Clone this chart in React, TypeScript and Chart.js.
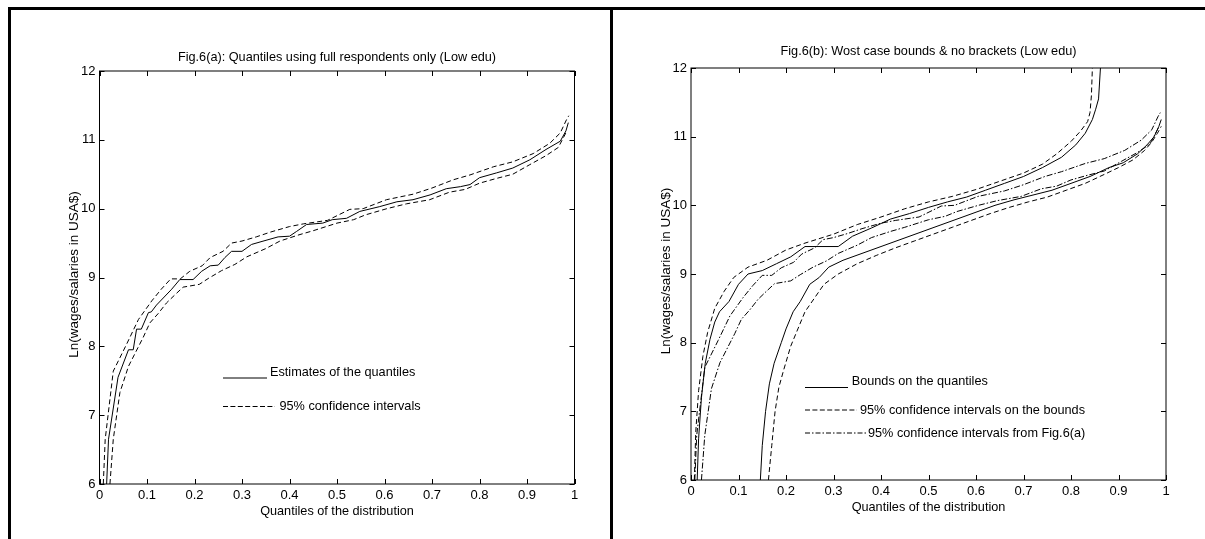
import React, { useEffect, useRef } from "react";
import { Chart, registerables } from "chart.js";

Chart.register(...registerables);

const FONT = "'Liberation Sans', Arial, Helvetica, sans-serif";

// ---------- tick labels ----------
const xTickValues = [0, 0.1, 0.2, 0.3, 0.4, 0.5, 0.6, 0.7, 0.8, 0.9, 1];
const xTickLabels = ["0", "0.1", "0.2", "0.3", "0.4", "0.5", "0.6", "0.7", "0.8", "0.9", "1"];
const yTickValues = [6, 7, 8, 9, 10, 11, 12];
const yTickLabels = ["6", "7", "8", "9", "10", "11", "12"];

// ---------- Fig.6(a) ----------
const estQ = [0.015, 0.019, 0.039, 0.061, 0.071, 0.078, 0.088, 0.103, 0.109, 0.12, 0.152, 0.169, 0.197, 0.215, 0.233, 0.25, 0.264, 0.278, 0.30, 0.32, 0.34, 0.376, 0.40, 0.415, 0.436, 0.47, 0.49, 0.52, 0.548, 0.59, 0.626, 0.66, 0.696, 0.73, 0.76, 0.78, 0.80, 0.836, 0.87, 0.906, 0.94, 0.97, 0.982, 0.987];
const estY = [6.0, 6.65, 7.55, 7.95, 7.95, 8.25, 8.25, 8.49, 8.5, 8.6, 8.83, 8.97, 8.97, 9.09, 9.17, 9.18, 9.29, 9.38, 9.38, 9.48, 9.52, 9.59, 9.6, 9.67, 9.77, 9.79, 9.84, 9.86, 9.96, 10.03, 10.1, 10.13, 10.2, 10.29, 10.32, 10.35, 10.45, 10.52, 10.59, 10.71, 10.86, 10.98, 11.13, 11.25];

const ciUpQ = [0.008, 0.012, 0.029, 0.057, 0.082, 0.11, 0.13, 0.15, 0.17, 0.19, 0.216, 0.233, 0.26, 0.278, 0.30, 0.33, 0.36, 0.40, 0.43, 0.48, 0.527, 0.555, 0.604, 0.66, 0.70, 0.745, 0.78, 0.83, 0.87, 0.913, 0.948, 0.97, 0.983, 0.988];
const ciUpY = [6.0, 6.65, 7.64, 8.03, 8.39, 8.66, 8.83, 8.98, 8.98, 9.09, 9.17, 9.29, 9.38, 9.5, 9.53, 9.59, 9.66, 9.74, 9.78, 9.83, 9.99, 10.0, 10.13, 10.21, 10.3, 10.42, 10.49, 10.61, 10.68, 10.8, 10.95, 11.1, 11.29, 11.35];

const ciLoQ = [0.022, 0.029, 0.043, 0.061, 0.075, 0.092, 0.106, 0.124, 0.141, 0.159, 0.176, 0.21, 0.23, 0.257, 0.285, 0.31, 0.35, 0.38, 0.42, 0.45, 0.50, 0.535, 0.56, 0.605, 0.646, 0.695, 0.737, 0.77, 0.80, 0.836, 0.87, 0.906, 0.94, 0.966, 0.975, 0.984];
const ciLoY = [6.0, 6.65, 7.33, 7.71, 7.9, 8.13, 8.34, 8.48, 8.63, 8.75, 8.86, 8.9, 8.99, 9.1, 9.19, 9.3, 9.42, 9.53, 9.62, 9.68, 9.79, 9.84, 9.91, 10.0, 10.07, 10.13, 10.24, 10.28, 10.37, 10.44, 10.5, 10.64, 10.77, 10.89, 11.01, 11.13];

// ---------- Fig.6(b) ----------
const ubQ = [0.013, 0.016, 0.022, 0.03, 0.04, 0.05, 0.06, 0.08, 0.1, 0.12, 0.15, 0.18, 0.21, 0.24, 0.31, 0.34, 0.38, 0.42, 0.46, 0.5, 0.54, 0.58, 0.62, 0.66, 0.7, 0.74, 0.78, 0.81, 0.83, 0.845, 0.852, 0.858, 0.862];
const ubY = [6.0, 6.6, 7.2, 7.7, 8.05, 8.3, 8.45, 8.6, 8.85, 9.0, 9.05, 9.15, 9.25, 9.4, 9.4, 9.55, 9.67, 9.8, 9.88, 9.97, 10.05, 10.12, 10.22, 10.32, 10.42, 10.55, 10.7, 10.88, 11.05, 11.25, 11.4, 11.55, 12.0];

const ucQ = [0.007, 0.01, 0.016, 0.025, 0.035, 0.05, 0.07, 0.09, 0.12, 0.16, 0.2, 0.24, 0.3, 0.35, 0.4, 0.45, 0.5, 0.55, 0.6, 0.65, 0.7, 0.74, 0.77, 0.8, 0.82, 0.835, 0.84, 0.843, 0.845];
const ucY = [6.0, 6.7, 7.3, 7.8, 8.15, 8.5, 8.75, 8.95, 9.1, 9.2, 9.35, 9.45, 9.58, 9.72, 9.83, 9.95, 10.05, 10.13, 10.23, 10.35, 10.47, 10.6, 10.75, 10.93, 11.08, 11.22, 11.35, 11.6, 12.0];

const lbQ = [0.146, 0.15, 0.157, 0.165, 0.175, 0.19, 0.2, 0.215, 0.23, 0.25, 0.27, 0.29, 0.32, 0.36, 0.4, 0.44, 0.48, 0.52, 0.56, 0.6, 0.64, 0.68, 0.72, 0.76, 0.8, 0.84, 0.88, 0.91, 0.94, 0.96, 0.975, 0.985, 0.99];
const lbY = [6.0, 6.5, 7.0, 7.4, 7.7, 8.0, 8.2, 8.45, 8.6, 8.85, 8.95, 9.1, 9.2, 9.3, 9.4, 9.5, 9.6, 9.7, 9.8, 9.9, 10.0, 10.08, 10.15, 10.22, 10.32, 10.42, 10.55, 10.62, 10.75, 10.88, 11.0, 11.15, 11.25];

const lcQ = [0.163, 0.17, 0.177, 0.185, 0.195, 0.21, 0.225, 0.24, 0.26, 0.28, 0.31, 0.35, 0.39, 0.43, 0.47, 0.51, 0.55, 0.59, 0.63, 0.67, 0.71, 0.75, 0.79, 0.83, 0.87, 0.9, 0.93, 0.955, 0.97, 0.982, 0.99];
const lcY = [6.0, 6.5, 7.0, 7.35, 7.6, 7.95, 8.2, 8.45, 8.65, 8.85, 9.0, 9.15, 9.27, 9.38, 9.48, 9.58, 9.68, 9.78, 9.88, 9.97, 10.05, 10.12, 10.22, 10.32, 10.45, 10.55, 10.66, 10.8, 10.92, 11.05, 11.15];

const TITLE_A = "Fig.6(a): Quantiles using full respondents only (Low edu)";
const TITLE_B = "Fig.6(b): Wost case bounds & no brackets (Low edu)";
const X_TITLE = "Quantiles of the distribution";
const Y_TITLE = "Ln(wages/salaries in USA$)";

const W = 1205;
const H = 539;
const Y_AXIS_W = 40;
const X_AXIS_H = 25;

const SOLID: number[] = [];
const DASH = [5, 3];
const DASHDOT = [6, 2, 1.5, 2];

function zip(q: number[], y: number[]) {
  return q.map((v, i) => ({ x: v, y: y[i] }));
}

function ds(q: number[], y: number[], dash: number[]) {
  return {
    data: zip(q, y),
    showLine: true,
    borderColor: "#000",
    borderWidth: 1,
    borderDash: dash,
    pointRadius: 0,
    tension: 0,
    fill: false,
  };
}

type LegendItem = { dash: number[]; x0: number; x1: number; ly: number; label: string; tx: number; ty: number };
type Decor = { title: string; titleY: number; legend: LegendItem[] };

function decorPlugin(cfg: Decor) {
  return {
    id: "decor",
    afterDraw(chart: any) {
      const { ctx, chartArea: a, scales } = chart;
      ctx.save();
      ctx.strokeStyle = "#000";
      ctx.lineWidth = 1;
      ctx.setLineDash([]);
      ctx.strokeRect(a.left, a.top, a.right - a.left, a.bottom - a.top);
      const tl = 5;
      ctx.beginPath();
      xTickValues.forEach((v) => {
        const px = Math.round(scales.x.getPixelForValue(v)) + 0.5;
        ctx.moveTo(px, a.bottom);
        ctx.lineTo(px, a.bottom - tl);
        ctx.moveTo(px, a.top);
        ctx.lineTo(px, a.top + tl);
      });
      yTickValues.forEach((v) => {
        const py = Math.round(scales.y.getPixelForValue(v)) + 0.5;
        ctx.moveTo(a.left, py);
        ctx.lineTo(a.left + tl, py);
        ctx.moveTo(a.right, py);
        ctx.lineTo(a.right - tl, py);
      });
      ctx.stroke();

      ctx.fillStyle = "#000";
      ctx.font = `12.7px ${FONT}`;
      ctx.textAlign = "center";
      ctx.textBaseline = "middle";
      const cx = (a.left + a.right) / 2;
      ctx.fillText(cfg.title, cx, cfg.titleY);
      ctx.fillText(X_TITLE, cx, a.bottom + 27);

      ctx.save();
      ctx.font = `13.5px ${FONT}`;
      ctx.translate(a.left - 25, (a.top + a.bottom) / 2 - 3);
      ctx.rotate(-Math.PI / 2);
      ctx.fillText(Y_TITLE, 0, 0);
      ctx.restore();

      ctx.textAlign = "left";
      cfg.legend.forEach((it) => {
        ctx.beginPath();
        ctx.setLineDash(it.dash);
        ctx.moveTo(it.x0, it.ly);
        ctx.lineTo(it.x1, it.ly);
        ctx.stroke();
        ctx.setLineDash([]);
        ctx.fillText(it.label, it.tx, it.ty);
      });
      ctx.restore();
    },
  };
}

function makeChart(
  canvas: HTMLCanvasElement,
  datasets: any[],
  padding: { left: number; right: number; top: number; bottom: number },
  decor: Decor
) {
  return new Chart(canvas, {
    type: "scatter",
    data: { datasets },
    plugins: [decorPlugin(decor)],
    options: {
      animation: false,
      responsive: false,
      events: [],
      layout: { padding },
      plugins: { legend: { display: false }, tooltip: { enabled: false }, title: { display: false } },
      scales: {
        x: {
          type: "linear",
          min: 0,
          max: 1,
          afterFit: (s: any) => {
            s.height = X_AXIS_H;
          },
          afterBuildTicks: (s: any) => {
            s.ticks = xTickValues.map((v) => ({ value: v }));
          },
          grid: { display: false, drawTicks: false },
          border: { display: false },
          ticks: {
            padding: 4,
            color: "#000",
            font: { family: FONT, size: 13 },
            maxRotation: 0,
            autoSkip: false,
            callback: (_v: any, i: number) => xTickLabels[i],
          },
        },
        y: {
          type: "linear",
          min: 6,
          max: 12,
          afterFit: (s: any) => {
            s.width = Y_AXIS_W;
          },
          afterBuildTicks: (s: any) => {
            s.ticks = yTickValues.map((v) => ({ value: v }));
          },
          grid: { display: false, drawTicks: false },
          border: { display: false },
          ticks: {
            padding: 4,
            color: "#000",
            font: { family: FONT, size: 13 },
            autoSkip: false,
            callback: (_v: any, i: number) => yTickLabels[i],
          },
        },
      },
    },
  } as any);
}

export default function App() {
  const refA = useRef<HTMLCanvasElement | null>(null);
  const refB = useRef<HTMLCanvasElement | null>(null);

  useEffect(() => {
    const a = makeChart(
      refA.current!,
      [ds(estQ, estY, SOLID), ds(ciUpQ, ciUpY, DASH), ds(ciLoQ, ciLoY, DASH)],
      { left: 99.5 - Y_AXIS_W, right: W - 574.5, top: 71, bottom: H - 484 - X_AXIS_H },
      {
        title: TITLE_A,
        titleY: 57.5,
        legend: [
          { dash: SOLID, x0: 223, x1: 267, ly: 378, label: "Estimates of the quantiles", tx: 270, ty: 372 },
          { dash: [5, 2.4], x0: 223, x1: 275, ly: 406.5, label: "95% confidence intervals", tx: 279.5, ty: 406.5 },
        ],
      }
    );
    const b = makeChart(
      refB.current!,
      [
        ds(ubQ, ubY, SOLID),
        ds(ucQ, ucY, DASH),
        ds(lbQ, lbY, SOLID),
        ds(lcQ, lcY, DASH),
        ds(ciUpQ, ciUpY, DASHDOT),
        ds(ciLoQ, ciLoY, DASHDOT),
      ],
      { left: 691 - Y_AXIS_W, right: W - 1166, top: 68, bottom: H - 480 - X_AXIS_H },
      {
        title: TITLE_B,
        titleY: 51,
        legend: [
          { dash: SOLID, x0: 805, x1: 848, ly: 387.5, label: "Bounds on the quantiles", tx: 851.7, ty: 381.7 },
          { dash: [5, 2.4], x0: 805, x1: 857, ly: 410, label: "95% confidence intervals on the bounds", tx: 860, ty: 410 },
          { dash: [5, 2, 1.5, 2], x0: 805, x1: 866, ly: 433, label: "95% confidence intervals from Fig.6(a)", tx: 868, ty: 433 },
        ],
      }
    );
    return () => {
      a.destroy();
      b.destroy();
    };
  }, []);

  const abs: React.CSSProperties = { position: "absolute", left: 0, top: 0 };
  return (
    <div style={{ position: "absolute", left: 0, top: 0, width: W, height: H, background: "#fff", overflow: "hidden" }}>
      <div style={{ position: "absolute", left: 8, top: 7, width: W - 8, height: 3, background: "#000" }} />
      <div style={{ position: "absolute", left: 8, top: 7, width: 3, height: H - 7, background: "#000" }} />
      <div style={{ position: "absolute", left: 610, top: 7, width: 3, height: H - 7, background: "#000" }} />
      <canvas ref={refA} width={W} height={H} style={abs} />
      <canvas ref={refB} width={W} height={H} style={abs} />
    </div>
  );
}
